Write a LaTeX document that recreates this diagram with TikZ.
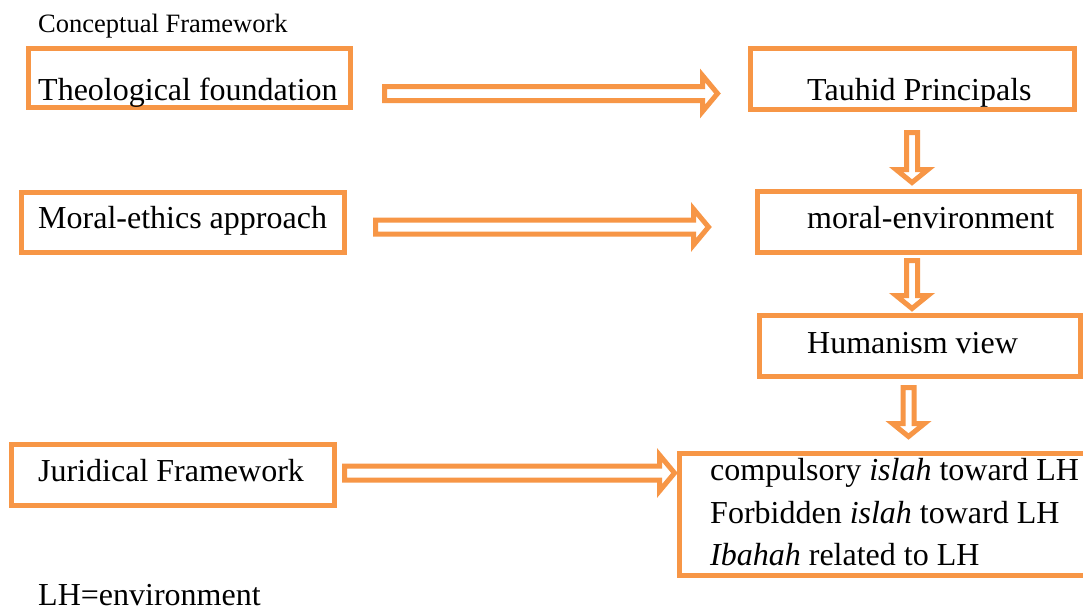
\documentclass[tikz,border=0pt]{standalone}
\usepackage{fontspec}
\setmainfont{Liberation Serif}
\usetikzlibrary{calc}
\definecolor{orng}{HTML}{F79646}
\tikzset{
  box/.style={draw=orng, line width=5pt, fill=white, inner sep=0pt, outer sep=0pt},
  txt/.style={anchor=base west, inner sep=0pt, font=\fontsize{32}{38}\selectfont},
  small/.style={anchor=base west, inner sep=0pt, font=\fontsize{26.5}{32}\selectfont},
  blk/.style={draw=orng, line width=5pt, fill=white, line join=miter}
}
\newcommand\hblock[2]{%
  \draw[blk] let \p1=(#1), \p2=(#2) in
    (\x1,\y1+7pt) -- (\x2-15pt,\y1+7pt) -- (\x2-15pt,\y1+18pt) -- (\x2,\y1)
    -- (\x2-15pt,\y1-18pt) -- (\x2-15pt,\y1-7pt) -- (\x1,\y1-7pt) -- cycle;}
\newcommand\vblock[2]{%
  \draw[blk] let \p1=(#1), \p2=(#2) in
    (\x1-5.5pt,\y1) -- (\x1-5.5pt,\y2+13pt) -- (\x1-16pt,\y2+13pt) -- (\x1,\y2)
    -- (\x1+16pt,\y2+13pt) -- (\x1+5.5pt,\y2+13pt) -- (\x1+5.5pt,\y1) -- cycle;}
\begin{document}
\begin{tikzpicture}[x=1pt,y=-1pt]
\useasboundingbox (0,0) rectangle (1083,610);
\clip (0,0) rectangle (1083,610);
\fill[white] (0,0) rectangle (1083,610);

\node[small] (title) at (38,33) {Conceptual Framework};

% boxes
\node[box, minimum width=322pt, minimum height=59pt] (theo) at (189.5,78) {};
\node[box, minimum width=324pt, minimum height=61pt] (tauhid) at (912.5,79) {};
\node[box, minimum width=323pt, minimum height=60pt] (ethics) at (183,222.5) {};
\node[box, minimum width=322pt, minimum height=61pt] (menv) at (918.5,222) {};
\node[box, minimum width=321pt, minimum height=61pt] (human) at (920,346) {};
\node[box, minimum width=323pt, minimum height=61pt] (jurid) at (173,475) {};
\node[box, minimum width=412pt, minimum height=122pt] (rules) at (885.5,514.5) {};

% texts
\node[txt] (theoT) at (38,100) {Theological foundation};
\node[txt] (tauhidT) at (807,100) {Tauhid Principals};
\node[txt] (ethicsT) at (38,228) {Moral-ethics approach};
\node[txt] (menvT) at (807,228) {moral-environment};
\node[txt] (humanT) at (807,353) {Humanism view};
\node[txt] (juridT) at (38,481) {Juridical Framework};
\node[txt] (r1) at (710,480) {compulsory \textit{islah} toward LH};
\node[txt] (r2) at (710,523) {Forbidden \textit{islah} toward LH};
\node[txt] (r3) at (710,565) {\textit{Ibahah} related to LH};
\node[txt] (lh) at (38,605) {LH=environment};

% arrow end points
\coordinate (a1s) at (384.5,93.5);  \coordinate (a1e) at (717.5,93.5);
\coordinate (a2s) at (375.5,227);   \coordinate (a2e) at (708.5,227);
\coordinate (a3s) at (344.5,473);   \coordinate (a3e) at (674.5,473);
\coordinate (d1s) at (912,132.5);   \coordinate (d1e) at (912,182.5);
\coordinate (d2s) at (912,260.5);   \coordinate (d2e) at (912,308.5);
\coordinate (d3s) at (908.5,387.5); \coordinate (d3e) at (908.5,436.5);

\hblock{a1s}{a1e}
\hblock{a2s}{a2e}
\hblock{a3s}{a3e}
\vblock{d1s}{d1e}
\vblock{d2s}{d2e}
\vblock{d3s}{d3e}
\end{tikzpicture}
\end{document}
